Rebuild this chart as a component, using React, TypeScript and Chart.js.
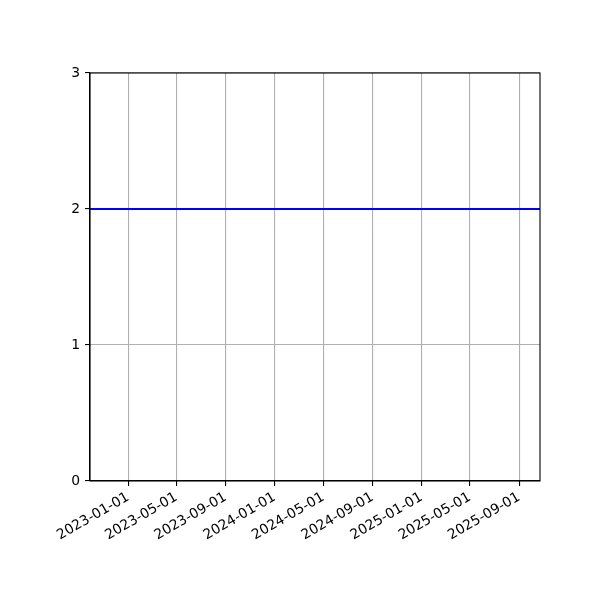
import { useEffect, useRef } from "react";
import { Chart, registerables } from "chart.js";

Chart.register(...registerables);

// Axis limits (dates) and the horizontal line's value
const xLimits = ["2022-09-28", "2025-10-23"];
const lineDates = ["2022-09-28", "2025-10-23"];
const lineValues = [2, 2];

// Tick labels
const xTickLabels = [
  "2023-01-01",
  "2023-05-01",
  "2023-09-01",
  "2024-01-01",
  "2024-05-01",
  "2024-09-01",
  "2025-01-01",
  "2025-05-01",
  "2025-09-01",
];
const yTicks = [0, 1, 2, 3];

const toMs = (d: string) => Date.parse(d + "T00:00:00Z");

// draws the top and right spines
const framePlugin = {
  id: "frame",
  afterDraw(chart: Chart) {
    const { ctx, chartArea } = chart;
    ctx.save();
    ctx.strokeStyle = "#000";
    ctx.lineWidth = 1.1;
    ctx.strokeRect(
      chartArea.left,
      chartArea.top,
      chartArea.right - chartArea.left,
      chartArea.bottom - chartArea.top
    );
    ctx.restore();
  },
};

export default function App() {
  const chartRef = useRef<HTMLCanvasElement>(null);
  const chartInstance = useRef<Chart | null>(null);

  useEffect(() => {
    if (!chartRef.current) return;
    if (chartInstance.current) chartInstance.current.destroy();
    const ctx = chartRef.current.getContext("2d");
    if (!ctx) return;

    const font = { family: "'DejaVu Sans', sans-serif", size: 13.9 };

    chartInstance.current = new Chart(ctx, {
      type: "line",
      data: {
        datasets: [
          {
            data: lineDates.map((d, i) => ({ x: toMs(d), y: lineValues[i] })),
            borderColor: "#0000ff",
            borderWidth: 2.1,
            pointRadius: 0,
            tension: 0,
          },
        ],
      },
      options: {
        responsive: false,
        animation: false,
        events: [],
        layout: { padding: { left: 0, right: 60, top: 73, bottom: 0 } },
        scales: {
          x: {
            type: "linear",
            min: toMs(xLimits[0]),
            max: toMs(xLimits[1]),
            afterBuildTicks: (scale: any) => {
              scale.ticks = xTickLabels.map((d) => ({ value: toMs(d) }));
            },
            afterFit: (scale: any) => {
              scale.height = 119;
            },
            ticks: {
              autoSkip: false,
              minRotation: 30,
              maxRotation: 30,
              color: "#000",
              font,
              padding: 3,
              callback: (_v: any, i: number) => xTickLabels[i],
            },
            grid: {
              color: "#b0b0b0",
              lineWidth: 1.1,
              tickColor: "#000",
              tickLength: 5,
            },
            border: { color: "#000", width: 1.1 },
          },
          y: {
            type: "linear",
            min: 0,
            max: 3,
            afterBuildTicks: (scale: any) => {
              scale.ticks = yTicks.map((v) => ({ value: v }));
            },
            afterFit: (scale: any) => {
              scale.width = 90;
            },
            ticks: {
              color: "#000",
              font,
              padding: 5,
              callback: (v: any) => String(v),
            },
            grid: {
              color: "#b0b0b0",
              lineWidth: 1.1,
              tickColor: "#000",
              tickLength: 5,
            },
            border: { color: "#000", width: 1.1 },
          },
        },
        plugins: {
          legend: { display: false },
          tooltip: { enabled: false },
        },
      },
      plugins: [framePlugin],
    });

    return () => {
      if (chartInstance.current) {
        chartInstance.current.destroy();
        chartInstance.current = null;
      }
    };
  }, []);

  return (
    <div
      style={{
        position: "absolute",
        left: 0,
        top: 0,
        width: 600,
        height: 600,
        background: "#fff",
      }}
    >
      <canvas ref={chartRef} width={600} height={600} />
    </div>
  );
}
